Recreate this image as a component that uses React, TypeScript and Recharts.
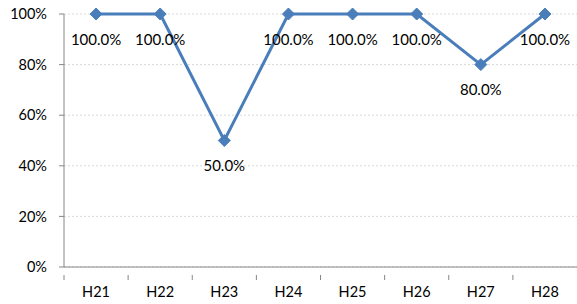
import React from "react";
import { LineChart, Line, XAxis, YAxis, CartesianGrid, LabelList } from "recharts";

const categories = ["H21", "H22", "H23", "H24", "H25", "H26", "H27", "H28"];
const rates = [1.0, 1.0, 0.5, 1.0, 1.0, 1.0, 0.8, 1.0];
const yTicks = [0, 0.2, 0.4, 0.6, 0.8, 1.0];

const data = categories.map((name, i) => ({ name, value: rates[i] }));

const WIDTH = 577;
const HEIGHT = 304;
const MARGIN = { top: 14, right: 0, bottom: 0, left: 0 };
const Y_WIDTH = 64;
const BAND = (WIDTH - Y_WIDTH - MARGIN.right) / categories.length;
const FONT = "Lato, 'Open Sans', sans-serif";
const AXIS = "#868686";
const BLUE = "#4A7EBB";

// diamond marker like Excel
const Diamond = (props: any) => {
  const { cx, cy } = props;
  if (cx == null || cy == null) return null;
  const r = 6;
  return (
    <polygon
      points={`${cx},${cy - r} ${cx + r},${cy} ${cx},${cy + r} ${cx - r},${cy}`}
      fill={BLUE}
      stroke={BLUE}
    />
  );
};

// tick marks sit between categories, not under them
const XTick = (props: any) => {
  const { x, y, payload } = props;
  const lx = x - BAND / 2;
  return (
    <g>
      <line x1={lx} y1={y} x2={lx} y2={y + 5} stroke={AXIS} strokeWidth={1} />
      <text x={x} y={y + 22} textAnchor="middle" fill="#000" fontSize={14.5} fontFamily={FONT}>
        {payload.value}
      </text>
    </g>
  );
};

const pct = (v: number) => `${Math.round(v * 100)}%`;
const pct1 = (v: any) => `${(Number(v) * 100).toFixed(1)}%`;

export default function App() {
  return (
    <div style={{ position: "absolute", left: 0, top: 0, width: WIDTH, height: HEIGHT, background: "#fff" }}>
      <LineChart width={WIDTH} height={HEIGHT} data={data} margin={MARGIN}>
        <CartesianGrid vertical={false} stroke="#d9d9d9" strokeDasharray="2 2" />
        <XAxis
          dataKey="name"
          height={37}
          stroke={AXIS}
          tickLine={false}
          tick={<XTick />}
          interval={0}
          padding={{ left: BAND / 2, right: BAND / 2 }}
        />
        <YAxis
          width={Y_WIDTH}
          domain={[0, 1]}
          ticks={yTicks}
          tickFormatter={pct}
          stroke={AXIS}
          tickSize={5}
          tickMargin={12}
          tick={{ fill: "#000", fontSize: 14.5, fontFamily: FONT }}
          interval={0}
        />
        <Line
          type="linear"
          dataKey="value"
          stroke={BLUE}
          strokeWidth={3}
          dot={<Diamond />}
          activeDot={false}
          isAnimationActive={false}
        >
          <LabelList
            dataKey="value"
            position="bottom"
            offset={20}
            formatter={pct1}
            fill="#000"
            fontSize={15}
            fontFamily={FONT}
          />
        </Line>
      </LineChart>
    </div>
  );
}
